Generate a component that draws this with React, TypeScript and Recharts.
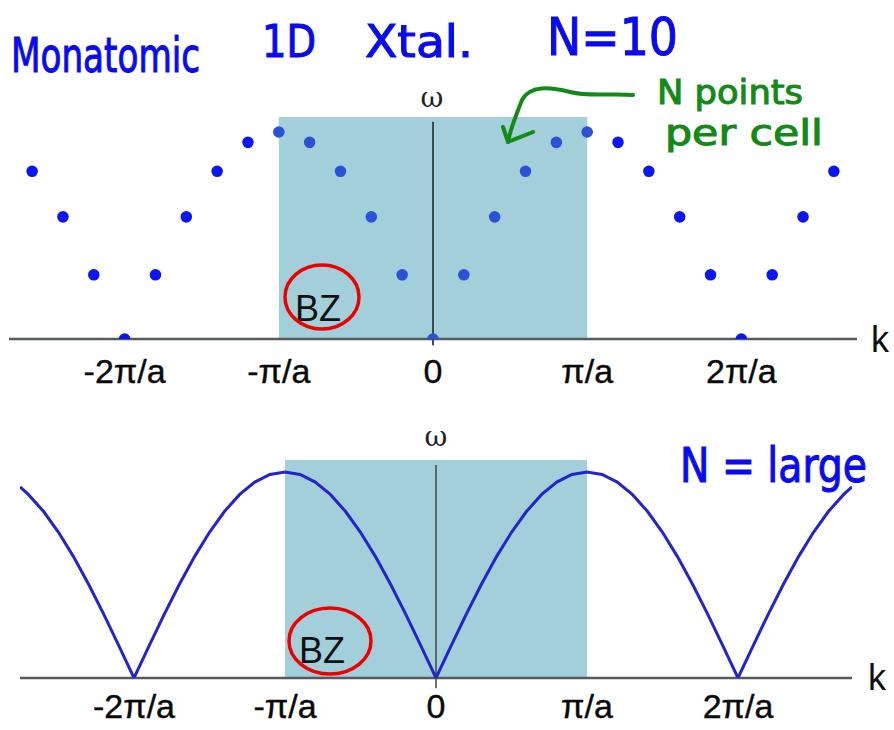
import React from "react";
import {
  ComposedChart,
  Scatter,
  Line,
  XAxis,
  YAxis,
  ZAxis,
  ReferenceArea,
  ReferenceLine,
  Cell,
} from "recharts";

// ---- tick labels ----
const tickValues = [-2, -1, 0, 1, 2];
const tickLabels = ["-2\u03c0/a", "-\u03c0/a", "0", "\u03c0/a", "2\u03c0/a"];

// ---- top chart: N = 10 discrete points (k in units of pi/a) ----
const dotK = [
  -2.6, -2.4, -2.2, -2.0, -1.8, -1.6, -1.4, -1.2, -1.0, -0.8, -0.6, -0.4, -0.2, 0,
  0.2, 0.4, 0.6, 0.8, 1.0, 1.2, 1.4, 1.6, 1.8, 2.0, 2.2, 2.4, 2.6,
];
const dotOmega = [
  0.81, 0.59, 0.31, 0, 0.31, 0.59, 0.81, 0.95, 1.0, 0.95, 0.81, 0.59, 0.31, 0,
  0.31, 0.59, 0.81, 0.95, 1.0, 0.95, 0.81, 0.59, 0.31, 0, 0.31, 0.59, 0.81,
];

// ---- bottom chart: N = large continuous curve ----
const curveK = [
  -2.755, -2.7, -2.6, -2.5, -2.4, -2.3, -2.2, -2.1, -2.0, -1.9, -1.8, -1.7, -1.6,
  -1.5, -1.4, -1.3, -1.2, -1.1, -1.0, -0.9, -0.8, -0.7, -0.6, -0.5, -0.4, -0.3,
  -0.2, -0.1, 0, 0.1, 0.2, 0.3, 0.4, 0.5, 0.6, 0.7, 0.8, 0.9, 1.0, 1.1, 1.2, 1.3,
  1.4, 1.5, 1.6, 1.7, 1.8, 1.9, 2.0, 2.1, 2.2, 2.3, 2.4, 2.5, 2.6, 2.7, 2.755,
];
const curveOmega = [
  0.927, 0.891, 0.809, 0.707, 0.588, 0.454, 0.309, 0.156, 0, 0.156, 0.309, 0.454,
  0.588, 0.707, 0.809, 0.891, 0.951, 0.988, 1.0, 0.988, 0.951, 0.891, 0.809, 0.707,
  0.588, 0.454, 0.309, 0.156, 0, 0.156, 0.309, 0.454, 0.588, 0.707, 0.809, 0.891,
  0.951, 0.988, 1.0, 0.988, 0.951, 0.891, 0.809, 0.707, 0.588, 0.454, 0.309, 0.156,
  0, 0.156, 0.309, 0.454, 0.588, 0.707, 0.809, 0.891, 0.927,
];

const dotData = dotK.map((k, i) => ({ k, omega: dotOmega[i] }));
const curveData = curveK.map((k, i) => ({ k, omega: curveOmega[i] }));

const SHADE = "#a2cfd9";
const AXIS = "#555a5c";
const HAND_BLUE = "#0a0af0";
const HAND_GREEN = "#138a17";
const TICK_FONT = "'Liberation Sans', Arial, sans-serif";

const makeTick = (dy: number) => (props: any) => {
  const { x, y, payload } = props;
  const idx = tickValues.indexOf(payload.value);
  return (
    <text
      x={x}
      y={y}
      dy={dy}
      textAnchor="middle"
      fontFamily={TICK_FONT}
      fontSize={34}
      fill="#0a0a0a"
      stroke="#0a0a0a"
      strokeWidth={0.4}
    >
      {idx >= 0 ? tickLabels[idx] : ""}
    </text>
  );
};

export default function App() {
  return (
    <div
      style={{
        position: "absolute",
        left: 0,
        top: 0,
        width: 894,
        height: 730,
        background: "#fff",
        overflow: "hidden",
      }}
    >
      {/* top chart */}
      <div style={{ position: "absolute", left: 0, top: 0 }}>
        <ComposedChart
          width={894}
          height={400}
          data={dotData}
          margin={{ top: 117, right: 37, bottom: 21, left: 9 }}
        >
          <XAxis
            dataKey="k"
            type="number"
            domain={[-2.75, 2.75]}
            ticks={tickValues}
            axisLine={false}
            tickLine={false}
            tickSize={0}
            tickMargin={0}
            height={40}
            tick={makeTick(44)}
            interval={0}
            allowDataOverflow
          />
          <YAxis type="number" domain={[0, 1.0725]} hide allowDataOverflow />
          <ZAxis type="number" range={[105, 105]} />
          <ReferenceArea
            x1={-1}
            x2={1}
            y1={0}
            y2={1.0725}
            fill={SHADE}
            fillOpacity={1}
            stroke="none"
            ifOverflow="visible"
          />
          <ReferenceLine y={0} stroke={AXIS} strokeWidth={2.5} />
          <ReferenceLine
            segment={[
              { x: 0, y: -0.03 },
              { x: 0, y: 1.05 },
            ]}
            stroke="#3d4a4e"
            strokeWidth={2}
            ifOverflow="visible"
          />
          <Scatter dataKey="omega" isAnimationActive={false} shape="circle">
            {dotData.map((d, i) => (
              <Cell
                key={i}
                fill={Math.abs(d.k) <= 1 ? "#2b52d6" : "#0a16f4"}
              />
            ))}
          </Scatter>
        </ComposedChart>
      </div>

      {/* bottom chart */}
      <div style={{ position: "absolute", left: 0, top: 400 }}>
        <ComposedChart
          width={894}
          height={330}
          data={curveData}
          margin={{ top: 60, right: 42, bottom: 12, left: 20 }}
        >
          <XAxis
            dataKey="k"
            type="number"
            domain={[-2.755, 2.755]}
            ticks={tickValues}
            axisLine={false}
            tickLine={false}
            tickSize={0}
            tickMargin={0}
            height={40}
            tick={makeTick(40)}
            interval={0}
            allowDataOverflow
          />
          <YAxis type="number" domain={[0, 1.058]} hide allowDataOverflow />
          <ReferenceArea
            x1={-1}
            x2={1}
            y1={0}
            y2={1.058}
            fill={SHADE}
            fillOpacity={1}
            stroke="none"
            ifOverflow="visible"
          />
          <ReferenceLine y={0} stroke={AXIS} strokeWidth={2.5} />
          <ReferenceLine
            segment={[
              { x: 0, y: -0.05 },
              { x: 0, y: 1.034 },
            ]}
            stroke="#3d4a4e"
            strokeWidth={1.5}
            ifOverflow="visible"
          />
          <Line
            dataKey="omega"
            type="linear"
            stroke="#2424cc"
            strokeWidth={3}
            dot={false}
            isAnimationActive={false}
          />
        </ComposedChart>
      </div>

      {/* annotations */}
      <svg
        width={894}
        height={730}
        style={{ position: "absolute", left: 0, top: 0, pointerEvents: "none" }}
      >
        <g
          fontFamily="'DejaVu Sans Condensed', 'Liberation Sans Narrow', sans-serif"
          fill={HAND_BLUE}
          stroke={HAND_BLUE}
          strokeWidth={1}
        >
          <text x={11} y={72} fontSize={48} textLength={189} lengthAdjust="spacingAndGlyphs">
            Monatomic
          </text>
          <text x={262} y={57} fontSize={44} textLength={54} lengthAdjust="spacingAndGlyphs">
            1D
          </text>
          <text x={365} y={57} fontSize={44} textLength={108} lengthAdjust="spacingAndGlyphs">
            Xtal.
          </text>
          <text x={547} y={55} fontSize={52} textLength={131} lengthAdjust="spacingAndGlyphs">
            N=10
          </text>
          <text x={680} y={482} fontSize={48} textLength={187} lengthAdjust="spacingAndGlyphs">
            N = large
          </text>
        </g>
        <g
          fontFamily="'DejaVu Sans Condensed', 'Liberation Sans Narrow', sans-serif"
          fill={HAND_GREEN}
          stroke={HAND_GREEN}
          strokeWidth={1}
        >
          <text x={657} y={104} fontSize={34} textLength={146} lengthAdjust="spacingAndGlyphs">
            N points
          </text>
          <text x={665} y={145} fontSize={36} textLength={158} lengthAdjust="spacingAndGlyphs">
            per cell
          </text>
        </g>
        <path
          d="M633,95 C610,93 590,97 570,92 C550,87 530,85 522,100 C516,115 510,130 508,142"
          fill="none"
          stroke={HAND_GREEN}
          strokeWidth={4}
          strokeLinecap="round"
        />
        <path
          d="M503,127 L508,142 L533,132"
          fill="none"
          stroke={HAND_GREEN}
          strokeWidth={4}
          strokeLinecap="round"
          strokeLinejoin="round"
        />

        {/* BZ labels */}
        <g fontFamily={TICK_FONT} fill="#111" fontSize={36} textAnchor="middle">
          <text x={318} y={321}>BZ</text>
          <text x={322} y={663}>BZ</text>
        </g>
        <ellipse cx={322} cy={297} rx={37} ry={32} fill="none" stroke="#ee0000" strokeWidth={3.5} />
        <ellipse cx={330} cy={641} rx={41} ry={33} fill="none" stroke="#ee0000" strokeWidth={3.5} />

        {/* axis names */}
        <g fontFamily="'DejaVu Serif', serif" fill="#222" fontSize={28} textAnchor="middle">
          <text x={432} y={107}>{"\u03c9"}</text>
          <text x={436} y={446}>{"\u03c9"}</text>
        </g>
        <g fontFamily={TICK_FONT} fill="#111" fontSize={36}>
          <text x={871} y={352}>k</text>
          <text x={868} y={690}>k</text>
        </g>
      </svg>
    </div>
  );
}
